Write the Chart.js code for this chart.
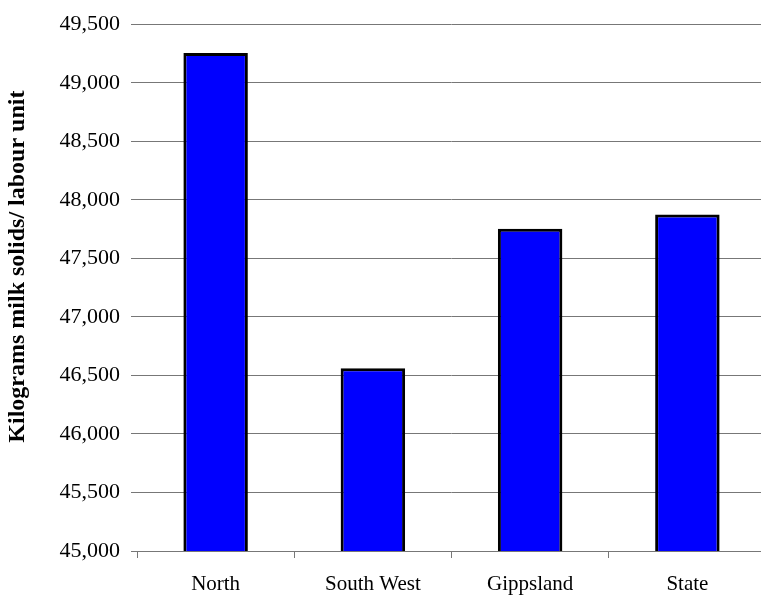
<!DOCTYPE html>
<html>
<head>
<meta charset="utf-8">
<script src="https://cdn.jsdelivr.net/npm/chart.js@4/dist/chart.umd.min.js"></script>
<style>
  html, body { margin: 0; padding: 0; background: #fff; overflow: hidden; }
  #wrap { width: 766px; height: 595px; }
</style>
</head>
<body>
<div id="wrap"><canvas id="myChart" width="766" height="595"></canvas></div>
<script>
const regiones = ['North', 'South West', 'Gippsland', 'State'];
const kgPorUnidad = [49255, 46562, 47752, 47875];
const yMin = 45000;
const yMax = 49500;
const yPaso = 500;
// espacios al inicio para subir un poco el titulo, como en el original
const tituloY = '\u00a0\u00a0\u00a0\u00a0\u00a0\u00a0\u00a0Kilograms milk solids/ labour unit';

const fuente = '"Liberation Serif", "Times New Roman", serif';

const ctx = document.getElementById('myChart').getContext('2d');

new Chart(ctx, {
    type: 'bar',
    data: {
        labels: regiones,
        datasets: [{
            data: kgPorUnidad,
            backgroundColor: '#0000FF',
            borderColor: '#000000',
            borderWidth: 3,
            borderSkipped: 'bottom',
            categoryPercentage: 1.0,
            barPercentage: 0.41
        }]
    },
    options: {
        responsive: false,
        animation: false,
        layout: { padding: { top: 12, bottom: 0, left: 0, right: 0 } },
        plugins: {
            legend: { display: false },
            tooltip: { enabled: false }
        },
        scales: {
            x: {
                afterFit: function(scale) { scale.height = 44; },
                grid: {
                    offset: true,
                    drawOnChartArea: false,
                    drawTicks: true,
                    tickLength: 7,
                    color: '#777'
                },
                border: { display: true, color: '#777', width: 1 },
                ticks: {
                    color: '#000',
                    padding: 16,
                    maxRotation: 0,
                    font: { family: fuente, size: 21, lineHeight: 1 }
                }
            },
            y: {
                min: yMin,
                max: yMax,
                afterFit: function(scale) { scale.width = 137; },
                grid: {
                    color: '#777',
                    lineWidth: 1,
                    drawTicks: true,
                    tickLength: 6
                },
                border: { display: false },
                ticks: {
                    stepSize: yPaso,
                    color: '#000',
                    padding: 11,
                    font: { family: fuente, size: 22 },
                    callback: v => v.toLocaleString('en-US')
                },
                title: {
                    display: true,
                    text: tituloY,
                    color: '#000',
                    padding: { top: 3, bottom: 0 },
                    font: { family: fuente, size: 24, weight: 'bold' }
                }
            }
        }
    }
});
</script>
</body>
</html>
